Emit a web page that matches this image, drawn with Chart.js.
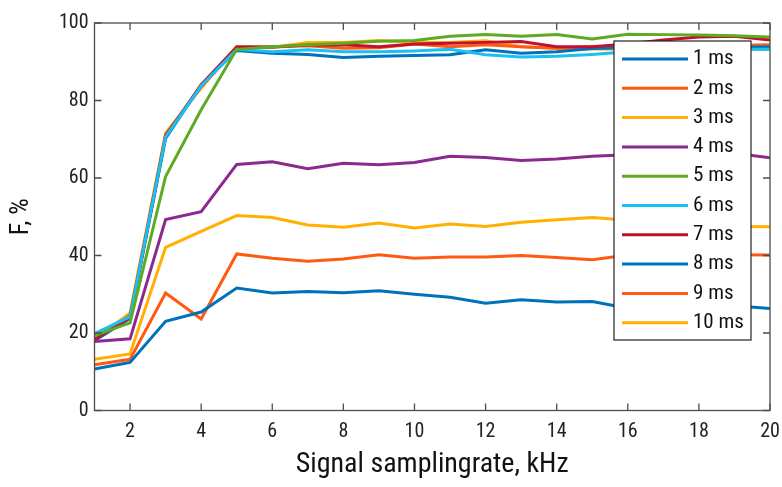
<!DOCTYPE html>
<html>
<head>
<meta charset="utf-8">
<script src="https://cdn.jsdelivr.net/npm/chart.js@4.4.1/dist/chart.umd.min.js"></script>
<style>
  html, body { margin: 0; padding: 0; background: #fff; }
  #wrap { width: 782px; height: 487px; }
</style>
</head>
<body>
<div id="wrap"><canvas id="chart" width="782" height="487"></canvas></div>
<script>
const rates = [1,2,3,4,5,6,7,8,9,10,11,12,13,14,15,16,17,18,19,20];
const xTicks = [2,4,6,8,10,12,14,16,18,20];
const yTicks = [0,20,40,60,80,100];
const labels = ["1 ms","2 ms","3 ms","4 ms","5 ms","6 ms","7 ms","8 ms","9 ms","10 ms"];
const colors = ["#0072BD","#FF5A12","#FFB000","#8A2A90","#5FAA24","#18C1F2","#C0112E","#0072BD","#FF5A12","#FFB000"];

const f1  = [10.7,12.4,23.0,25.4,31.6,30.3,30.7,30.4,30.9,30.0,29.2,27.7,28.6,28.0,28.1,26.4,26.0,26.5,27.0,26.3];
const f2  = [11.8,13.2,30.3,23.6,40.4,39.3,38.5,39.1,40.2,39.3,39.6,39.6,40.0,39.5,38.9,40.1,40.2,40.2,40.2,40.1];
const f3  = [13.2,14.6,42.1,46.2,50.3,49.8,47.9,47.3,48.4,47.1,48.1,47.5,48.6,49.2,49.8,49.1,47.8,47.6,47.5,47.4];
const f4  = [17.8,18.5,49.3,51.3,63.5,64.2,62.4,63.8,63.4,64.0,65.6,65.3,64.5,64.9,65.6,66.0,66.3,66.3,66.4,65.2];
const f5  = [19.3,22.6,60.4,77.6,93.2,93.9,94.4,94.8,95.3,95.5,96.6,97.0,96.6,97.0,95.9,97.1,97.0,96.9,96.7,96.4];
const f6  = [19.8,24.2,70.6,83.8,93.2,92.6,93.1,92.6,92.6,92.8,93.2,91.8,91.2,91.4,91.9,92.6,92.8,93.0,93.2,93.2];
const f7  = [18.3,24.0,70.8,84.1,93.8,93.8,94.3,94.4,93.9,94.6,94.8,95.0,95.2,93.9,93.9,94.6,95.6,96.4,96.6,95.6];
const f8  = [18.0,23.8,70.2,84.0,92.9,92.2,91.9,91.1,91.4,91.6,91.8,93.1,92.2,92.6,93.4,93.6,93.6,93.7,93.8,93.8];
const f9  = [18.1,24.6,71.2,83.5,93.8,93.8,94.1,93.5,93.6,94.6,93.9,94.4,93.9,93.5,93.9,94.0,94.1,94.2,94.2,94.4];
const f10 = [18.4,25.2,71.6,83.2,93.9,93.7,95.0,95.0,95.5,95.0,95.0,95.4,93.9,93.5,93.3,93.2,93.3,93.7,93.3,93.2];

const series = [f1,f2,f3,f4,f5,f6,f7,f8,f9,f10];
const FONT = "'Liberation Sans Narrow', 'Roboto Condensed', Roboto, sans-serif";
const AXIS = "#4d4d4d";

const boxAndTicks = {
  id: "boxAndTicks",
  afterDatasetsDraw(chart) {
    const {ctx, chartArea: a, scales: {x, y}} = chart;
    ctx.save();
    ctx.strokeStyle = AXIS;
    ctx.lineWidth = 1.3;
    ctx.strokeRect(a.left, a.top, a.right - a.left, a.bottom - a.top);
    ctx.beginPath();
    xTicks.forEach(v => {
      const px = x.getPixelForValue(v);
      ctx.moveTo(px, a.bottom); ctx.lineTo(px, a.bottom - 7);
      ctx.moveTo(px, a.top); ctx.lineTo(px, a.top + 7);
    });
    yTicks.forEach(v => {
      const py = y.getPixelForValue(v);
      ctx.moveTo(a.left, py); ctx.lineTo(a.left + 7, py);
      ctx.moveTo(a.right, py); ctx.lineTo(a.right - 7, py);
    });
    ctx.stroke();
    ctx.restore();
  },
  afterDraw(chart) {
    // legend box inside the plot, top right
    const {ctx} = chart;
    const bx = 614, by = 41, bw = 137, bh = 299, row = 29.3;
    ctx.save();
    ctx.fillStyle = "#fff";
    ctx.fillRect(bx, by, bw, bh);
    ctx.strokeStyle = "#222";
    ctx.lineWidth = 1.2;
    ctx.strokeRect(bx, by, bw, bh);
    ctx.font = "21px " + FONT;
    ctx.textBaseline = "middle";
    chart.data.datasets.forEach((ds, i) => {
      const cy = by + 18 + i * row;
      ctx.strokeStyle = ds.borderColor;
      ctx.lineWidth = 3;
      ctx.beginPath();
      ctx.moveTo(bx + 8, cy); ctx.lineTo(bx + 74, cy);
      ctx.stroke();
      ctx.fillStyle = "#111";
      ctx.fillText(ds.label, bx + 79, cy);
    });
    ctx.restore();
  }
};

new Chart(document.getElementById("chart"), {
  type: "line",
  data: {
    datasets: series.map((s, i) => ({
      label: labels[i],
      data: rates.map((r, j) => ({x: r, y: s[j]})),
      borderColor: colors[i],
      backgroundColor: colors[i],
      borderWidth: 3,
      pointRadius: 0,
      tension: 0
    }))
  },
  options: {
    responsive: false,
    animation: false,
    layout: { padding: { top: 23, right: 12, left: 0, bottom: 0 } },
    plugins: { legend: { display: false }, tooltip: { enabled: false } },
    scales: {
      x: {
        type: "linear", min: 1, max: 20,
        afterBuildTicks: s => { s.ticks = xTicks.map(v => ({value: v})); },
        afterFit: s => { s.height = 76.5; s.paddingLeft = 0; s.paddingRight = 0; },
        grid: { display: false, drawTicks: false },
        border: { display: false },
        ticks: { color: "#222", padding: 9, font: { family: FONT, size: 20 } },
        title: { display: true, text: "Signal samplingrate, kHz", color: "#111",
                 padding: { top: 0, bottom: 5 }, font: { family: FONT, size: 28 } }
      },
      y: {
        min: 0, max: 100,
        afterBuildTicks: s => { s.ticks = yTicks.map(v => ({value: v})); },
        afterFit: s => { s.width = 94.5; },
        grid: { display: false, drawTicks: false },
        border: { display: false },
        ticks: { color: "#222", padding: 6, font: { family: FONT, size: 20 } },
        title: { display: true, text: "F, %", color: "#111",
                 padding: { top: 6, bottom: 0 }, font: { family: FONT, size: 26 } }
      }
    }
  },
  plugins: [boxAndTicks]
});
</script>
</body>
</html>
